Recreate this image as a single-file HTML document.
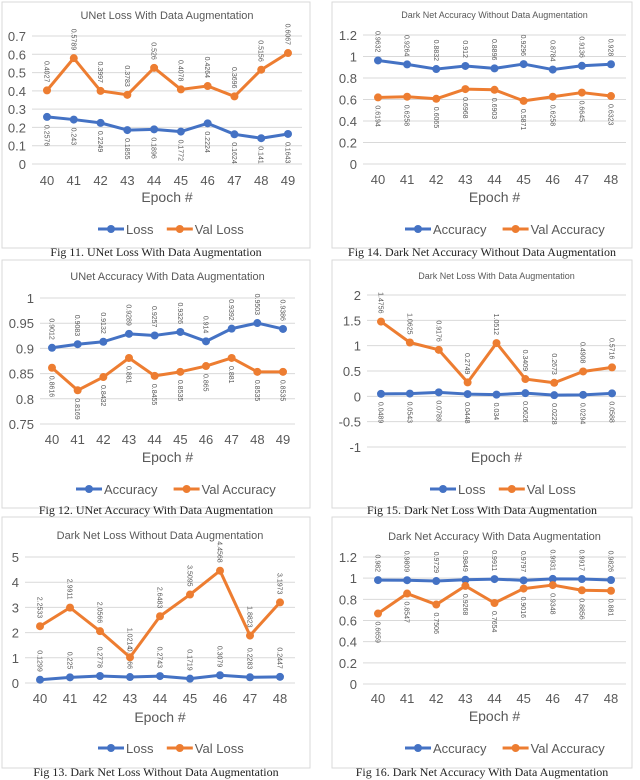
<!DOCTYPE html>
<html><head><meta charset="utf-8"><style>
body{margin:0;background:#fff;width:640px;height:780px;overflow:hidden;font-family:"Liberation Sans",sans-serif}
svg{position:absolute;left:0;top:0}
</style></head><body>
<svg id="fig" width="640" height="780" viewBox="0 0 640 780"></svg>
<script>
// ---- data ----
const epochs10 = [40,41,42,43,44,45,46,47,48,49];
const epochs9 = [40,41,42,43,44,45,46,47,48];
const unetLoss = [0.2576,0.243,0.2249,0.1855,0.1896,0.1772,0.2224,0.1624,0.141,0.1643];
const unetValLoss = [0.4027,0.5789,0.3997,0.3783,0.526,0.4078,0.4264,0.3696,0.5156,0.6067];
const unetAcc = [0.9012,0.9083,0.9132,0.9289,0.9257,0.9326,0.914,0.9392,0.9503,0.9386];
const unetValAcc = [0.8616,0.8169,0.8432,0.881,0.8455,0.8535,0.865,0.881,0.8535,0.8535];
const dnNoAugLoss = [0.1299,0.225,0.2778,0.2366,0.2743,0.1719,0.3079,0.2283,0.2447];
const dnNoAugValLoss = [2.2533,2.9911,2.0566,1.0214,2.6483,3.5095,4.4568,1.8823,3.1973];
const dnNoAugAcc = [0.9632,0.9264,0.8832,0.912,0.8896,0.9296,0.8784,0.9136,0.928];
const dnNoAugValAcc = [0.6194,0.6258,0.6065,0.6968,0.6903,0.5871,0.6258,0.6645,0.6323];
const dnAugLoss = [0.0489,0.0543,0.0789,0.0448,0.034,0.0626,0.0228,0.0294,0.0588];
const dnAugValLoss = [1.4756,1.0625,0.9176,0.2749,1.0512,0.3409,0.2673,0.4908,0.5716];
const dnAugAcc = [0.982,0.9809,0.9729,0.9849,0.9911,0.9797,0.9931,0.9917,0.9826];
const dnAugValAcc = [0.6659,0.8547,0.7506,0.9268,0.7654,0.9016,0.9348,0.8856,0.881];
const ticks11 = [0,0.1,0.2,0.3,0.4,0.5,0.6,0.7];
const ticks12 = [0.75,0.8,0.85,0.9,0.95,1];
const ticks13 = [0,1,2,3,4,5];
const ticks14 = [0,0.2,0.4,0.6,0.8,1,1.2];
const ticks15 = [-1,-0.5,0,0.5,1,1.5,2];

const NS='http://www.w3.org/2000/svg';
const svg=document.getElementById('fig');
function mk(tag,attrs,parent,txt){const e=document.createElementNS(NS,tag);for(const k in attrs)e.setAttribute(k,attrs[k]);if(txt!==undefined)e.textContent=txt;(parent||svg).appendChild(e);return e;}
const BLUE='#4472c4',ORANGE='#ed7d31',GRAY='#595959';

function chart(c){
  const g=mk('g',{});
  
  
  const b=mk('rect',{x:c.box[0],y:c.box[1],width:c.box[2],height:c.box[3],fill:'#fff',stroke:'#d9d9d9','stroke-width':1},g);
  
  
  const t=mk('text',{x:(c.gx0+c.gx1)/2,y:c.titleY,'text-anchor':'middle','font-size':c.titleSize||11,fill:GRAY},g,c.title);
  
  
  const ymin=c.ticks[0],ymax=c.ticks[c.ticks.length-1];
  const Y=v=>c.yBot+(v-ymin)/(ymax-ymin)*(c.yTop-c.yBot);
  const n=c.cats.length;
  const X=i=>c.x0+i*(c.x1-c.x0)/(n-1);
  c.ticks.forEach(v=>{
    const l=mk('line',{x1:c.gx0,x2:c.gx1,y1:Y(v),y2:Y(v),stroke:'#d9d9d9','stroke-width':1},g);
    
    
    const tx=mk('text',{x:c.gx0-6,y:Y(v)+5,'text-anchor':'end','font-size':13,fill:GRAY},g,String(v));
    
    
  });
  if(c.showX!==false) c.cats.forEach((v,i)=>{
    const tx=mk('text',{x:X(i),y:c.xLabY,'text-anchor':'middle','font-size':13,fill:GRAY},g,String(v));
    
    
  });
  const et=mk('text',{x:(c.gx0+c.gx1)/2,y:c.epochY,'text-anchor':'middle','font-size':14,fill:GRAY},g,'Epoch #');
  
  
  c.series.forEach(s=>{
    const p=mk('polyline',{points:s.vals.map((v,i)=>X(i)+','+Y(v)).join(' '),fill:'none',stroke:s.color,'stroke-width':3,'stroke-linejoin':'round'},g);
    
    
    s.vals.forEach((v,i)=>{
      const m=mk('circle',{cx:X(i),cy:Y(v),r:4,fill:s.color},g);
      
      
      const up=s.pos==='above';
      const y=up?Y(v)-8:Y(v)+8;
      const lb=mk('text',{x:0,y:0,transform:`translate(${X(i)-2.5},${y}) rotate(90)`,'text-anchor':up?'end':'start','font-size':7,fill:GRAY},g,String(v));
      
      
    });
  });
  // legend
  let lx=c.legX;
  c.series.forEach(s=>{
    const l=mk('line',{x1:lx,x2:lx+26,y1:c.legY,y2:c.legY,stroke:s.color,'stroke-width':3},g);
    
    
    const cc=mk('circle',{cx:lx+13,cy:c.legY,r:4,fill:s.color},g);
    
    
    const tx=mk('text',{x:lx+28,y:c.legY+5,'font-size':13,fill:GRAY},g,s.label);
    
    
    lx+=28+s.label.length*7.2+12;
  });
  const cap=mk('text',{x:c.box[0]+c.box[2]/2,y:c.capY,'text-anchor':'middle','font-size':12,fill:'#222','font-family':'Liberation Serif, serif'},g,c.caption);
  
  
}

chart({name:'unet-loss-chart',box:[2,2,308,246],title:'UNet Loss With Data Augmentation',titleY:19,ticks:ticks11,yTop:36,yBot:164,gx0:32,gx1:302,x0:47,x1:288,cats:epochs10,xLabY:185,epochY:202,legX:98,legY:229,capY:256,caption:'Fig 11. UNet Loss With Data Augmentation',
  series:[{label:'Loss',vals:unetLoss,color:BLUE,pos:'below'},{label:'Val Loss',vals:unetValLoss,color:ORANGE,pos:'above'}]});
chart({name:'darknet-acc-noaug-chart',box:[332,2,300,246],title:'Dark Net Accuracy Without Data Augmentation',titleSize:9,titleY:18,ticks:ticks14,yTop:35,yBot:164,gx0:363,gx1:626,x0:378,x1:611,cats:epochs9,xLabY:184,epochY:202,legX:405,legY:229,capY:256,caption:'Fig 14. Dark Net Accuracy Without Data Augmentation',
  series:[{label:'Accuracy',vals:dnNoAugAcc,color:BLUE,pos:'above'},{label:'Val Accuracy',vals:dnNoAugValAcc,color:ORANGE,pos:'below'}]});
chart({name:'unet-accuracy-chart',box:[2,260,308,248],title:'UNet Accuracy With Data Augmentation',titleY:280,ticks:ticks12,yTop:298,yBot:424,gx0:40,gx1:295,x0:52,x1:283,cats:epochs10,xLabY:444,epochY:462,legX:76,legY:489,capY:514,caption:'Fig 12. UNet Accuracy With Data Augmentation',
  series:[{label:'Accuracy',vals:unetAcc,color:BLUE,pos:'above'},{label:'Val Accuracy',vals:unetValAcc,color:ORANGE,pos:'below'}]});
chart({name:'darknet-loss-aug-chart',box:[332,260,300,248],title:'Dark Net Loss With Data Augmentation',titleSize:9,titleY:279,ticks:ticks15,yTop:295,yBot:447,gx0:367,gx1:626,x0:381,x1:612,cats:epochs9,showX:false,xLabY:0,epochY:462,legX:430,legY:489,capY:514,caption:'Fig 15. Dark Net Loss With Data Augmentation',
  series:[{label:'Loss',vals:dnAugLoss,color:BLUE,pos:'below'},{label:'Val Loss',vals:dnAugValLoss,color:ORANGE,pos:'above'}]});
chart({name:'darknet-loss-noaug-chart',box:[2,517,308,251],title:'Dark Net Loss Without Data Augmentation',titleY:539,ticks:ticks13,yTop:557,yBot:683,gx0:25,gx1:295,x0:40,x1:280,cats:epochs9,xLabY:703,epochY:722,legX:98,legY:748,capY:776,caption:'Fig 13. Dark Net Loss Without Data Augmentation',
  series:[{label:'Loss',vals:dnNoAugLoss,color:BLUE,pos:'above'},{label:'Val Loss',vals:dnNoAugValLoss,color:ORANGE,pos:'above'}]});
chart({name:'darknet-acc-aug-chart',box:[332,517,300,251],title:'Dark Net Accuracy With Data Augmentation',titleY:540,ticks:ticks14,yTop:557,yBot:684,gx0:363,gx1:626,x0:378,x1:611,cats:epochs9,xLabY:703,epochY:721,legX:405,legY:748,capY:776,caption:'Fig 16. Dark Net Accuracy With Data Augmentation',
  series:[{label:'Accuracy',vals:dnAugAcc,color:BLUE,pos:'above'},{label:'Val Accuracy',vals:dnAugValAcc,color:ORANGE,pos:'below'}]});
</script>
</body></html>
